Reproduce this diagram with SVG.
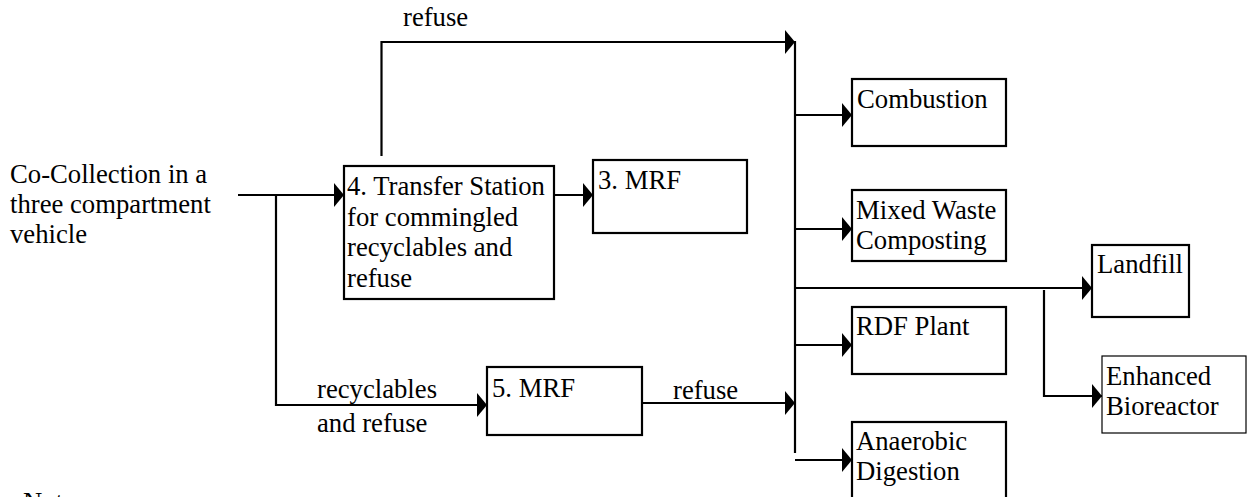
<svg xmlns="http://www.w3.org/2000/svg" width="1248" height="497" viewBox="0 0 1248 497">
  <style>
    text { font-family: "Liberation Serif", "DejaVu Serif", serif; font-size: 26.7px; fill: #000; stroke: none; }
    .box { fill: #fff; stroke: #000; stroke-width: 2.2; }
    .thin { stroke-width: 1.2; }
    .wire { fill: none; stroke: #000; stroke-width: 2.2; }
  </style>
  <defs>
    <marker id="arrow" markerUnits="userSpaceOnUse" markerWidth="11" markerHeight="24" refX="10" refY="12" orient="auto">
      <path d="M0,0 L10,12 L0,24 Z" fill="#000"/>
    </marker>
  </defs>
  <rect width="1248" height="497" fill="#fff"/>

  <!-- source label -->
  <g id="source">
    <text x="10" y="183">Co-Collection in a</text>
    <text x="10" y="213">three compartment</text>
    <text x="10" y="243">vehicle</text>
  </g>

  <!-- connectors and their labels -->
  <g id="connectors">
    <path class="wire" d="M238,195 H344" marker-end="url(#arrow)"/>
    <path class="wire" d="M276,195 V405 H487" marker-end="url(#arrow)"/>
    <path class="wire" d="M554,195 H593" marker-end="url(#arrow)"/>
    <path class="wire" d="M381.5,156 V42 H795" marker-end="url(#arrow)"/>
    <path class="wire" d="M795,41 V453"/>
    <path class="wire" d="M795,115 H852" marker-end="url(#arrow)"/>
    <path class="wire" d="M795,229 H852" marker-end="url(#arrow)"/>
    <path class="wire" d="M795,288 H1092" marker-end="url(#arrow)"/>
    <path class="wire" d="M1044,290 V396 H1102" marker-end="url(#arrow)"/>
    <path class="wire" d="M795,345 H852" marker-end="url(#arrow)"/>
    <path class="wire" d="M642,403 H795" marker-end="url(#arrow)"/>
    <path class="wire" d="M795,460 H852" marker-end="url(#arrow)"/>
    <text x="403" y="26">refuse</text>
    <text x="317" y="398">recyclables</text>
    <text x="317" y="432">and refuse</text>
    <text x="673" y="399">refuse</text>
  </g>

  <g id="transfer-station">
    <rect class="box" x="344" y="166" width="210" height="133"/>
    <text x="347" y="195">4. Transfer Station</text>
    <text x="347" y="225.5">for commingled</text>
    <text x="347" y="256">recyclables and</text>
    <text x="347" y="286.5">refuse</text>
  </g>

  <g id="mrf-3">
    <rect class="box" x="593" y="160" width="154" height="73"/>
    <text x="598" y="189">3. MRF</text>
  </g>

  <g id="mrf-5">
    <rect class="box" x="487" y="367" width="155" height="68"/>
    <text x="492" y="397">5. MRF</text>
  </g>

  <g id="combustion">
    <rect class="box" x="852" y="79" width="154" height="67"/>
    <text x="857" y="108">Combustion</text>
  </g>

  <g id="composting">
    <rect class="box" x="852" y="190" width="154" height="71"/>
    <text x="856" y="219">Mixed Waste</text>
    <text x="856" y="249">Composting</text>
  </g>

  <g id="landfill">
    <rect class="box" x="1092" y="245" width="97" height="72"/>
    <text x="1097" y="273">Landfill</text>
  </g>

  <g id="rdf-plant">
    <rect class="box" x="852" y="307" width="154" height="67"/>
    <text x="856" y="335">RDF Plant</text>
  </g>

  <g id="bioreactor">
    <rect class="box thin" x="1102" y="356" width="144" height="77"/>
    <text x="1106" y="385">Enhanced</text>
    <text x="1106" y="415">Bioreactor</text>
  </g>

  <g id="anaerobic">
    <rect class="box" x="852" y="422" width="154" height="90"/>
    <text x="856" y="450">Anaerobic</text>
    <text x="856" y="480">Digestion</text>
  </g>

  <g id="note">
    <text x="23" y="511">Note</text>
  </g>
</svg>
